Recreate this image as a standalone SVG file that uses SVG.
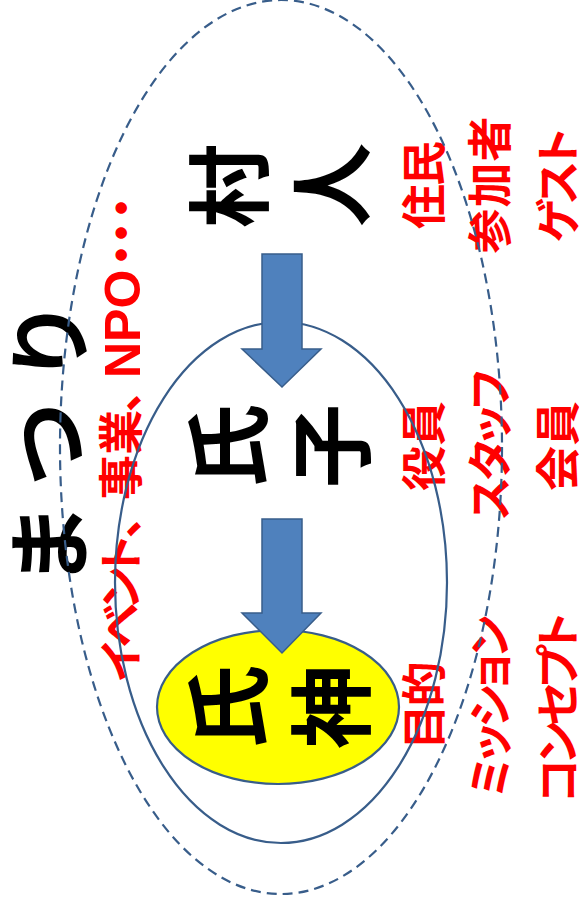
<svg xmlns="http://www.w3.org/2000/svg" width="579" height="910" viewBox="0 0 579 910">
<style>
.cjk{font-family:'Noto Sans CJK JP','Noto Sans',sans-serif;font-weight:bold;}
.big{font-size:84px;fill:#000000;}
.red{font-size:45px;fill:#FF0000;font-feature-settings:"palt";}
.lat{font-family:'Liberation Sans',Arial,sans-serif;font-weight:bold;font-size:50px;fill:#FF0000;}
.line{fill:none;stroke:#385D8A;stroke-width:2.2;}
.dash{fill:none;stroke:#385D8A;stroke-width:2.2;stroke-dasharray:10 6;}
.arrow{fill:#4F81BD;stroke:#385D8A;stroke-width:1.5;stroke-linejoin:miter;}
</style>
<rect x="0" y="0" width="579" height="910" fill="#FFFFFF"/>
<g transform="translate(0,910) rotate(-90)">
  <g id="matsuri">
    <text class="cjk big" text-anchor="middle" y="80.5"><tspan x="365">ま</tspan><tspan x="466">つ</tspan><tspan x="569">り</tspan></text>
  </g>
  <g id="matsuri-items">
    <text class="cjk red" y="138"><tspan x="301.5" text-anchor="middle" textLength="146" lengthAdjust="spacing">イベント</tspan><tspan x="372">、</tspan><tspan x="455" text-anchor="middle">事業</tspan><tspan x="498">、</tspan><tspan class="lat" x="532" y="140">NPO</tspan><tspan x="655" text-anchor="middle" y="139">・</tspan><tspan x="677" text-anchor="middle" y="139">・</tspan><tspan x="702" text-anchor="middle" y="139">・</tspan></text>
  </g>
  <g id="murabito-roles">
    <text class="cjk red" x="725" y="441" text-anchor="middle" textLength="88" lengthAdjust="spacing">住民</text>
    <text class="cjk red" x="725" y="507" text-anchor="middle" textLength="137" lengthAdjust="spacing">参加者</text>
    <text class="cjk red" x="725" y="575" text-anchor="middle" textLength="114" lengthAdjust="spacing">ゲスト</text>
  </g>
  <g id="ujiko-roles">
    <text class="cjk red" x="464" y="441" text-anchor="middle" textLength="90" lengthAdjust="spacing">役員</text>
    <text class="cjk red" x="465.5" y="507" text-anchor="middle" textLength="150" lengthAdjust="spacing">スタッフ</text>
    <text class="cjk red" x="464" y="575" text-anchor="middle" textLength="90" lengthAdjust="spacing">会員</text>
  </g>
  <g id="ujigami-roles">
    <text class="cjk red" x="204.5" y="441" text-anchor="middle" textLength="88" lengthAdjust="spacing">目的</text>
    <text class="cjk red" x="203.5" y="507" text-anchor="middle" textLength="182" lengthAdjust="spacing">ミッション</text>
    <text class="cjk red" x="202.5" y="575" text-anchor="middle" textLength="190" lengthAdjust="spacing">コンセプト</text>
  </g>
</g>
<g id="matsuri-area">
  <ellipse class="dash" cx="281" cy="447" rx="221" ry="447"/>
</g>
<g id="ujiko-area">
  <ellipse class="line" cx="281" cy="582.5" rx="166" ry="260.5"/>
</g>
<g id="ujigami-area">
  <ellipse cx="278" cy="707" rx="121" ry="77" fill="#FFFF00" stroke="#385D8A" stroke-width="2.2"/>
</g>
<g id="connectors">
  <polygon class="arrow" points="262,254 302,254 302,349 321,349 282,387 242,349 262,349"/>
  <polygon class="arrow" points="262,519 302,519 302,613 321,613 282,653 242,613 262,613"/>
</g>
<g transform="translate(0,910) rotate(-90)">
  <g id="murabito">
    <text class="cjk big" text-anchor="middle" x="724"><tspan x="724" y="260.5">村</tspan><tspan x="725" y="363">人</tspan></text>
  </g>
  <g id="ujiko">
    <text class="cjk big" text-anchor="middle" x="464"><tspan x="464" y="259.5">氏</tspan><tspan x="464" y="363">子</tspan></text>
  </g>
  <g id="ujigami">
    <text class="cjk big" text-anchor="middle" x="203"><tspan x="203" y="260">氏</tspan><tspan x="203" y="363">神</tspan></text>
  </g>
</g>
</svg>
